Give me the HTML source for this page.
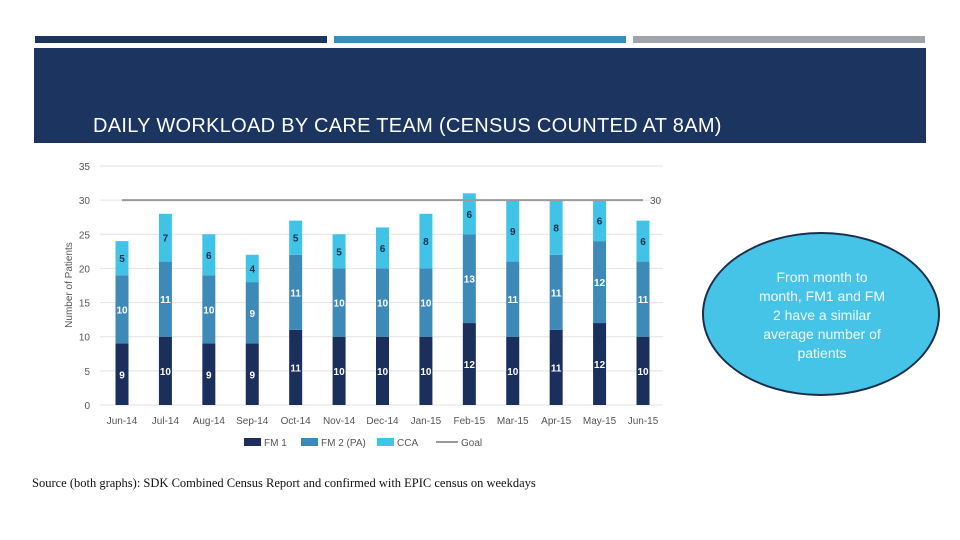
<!DOCTYPE html>
<html><head><meta charset="utf-8"><style>
body{margin:0;width:960px;height:540px;background:#fff;position:relative;overflow:hidden;font-family:"Liberation Sans",sans-serif}
.bar{position:absolute;top:36px;height:7px}
</style></head><body>
<div class="bar" style="left:35px;width:292px;background:#1b3560"></div>
<div class="bar" style="left:334px;width:292px;background:#3c8cba"></div>
<div class="bar" style="left:633px;width:292px;background:#a0a4aa"></div>
<div style="position:absolute;left:34px;top:48px;width:892px;height:95px;background:#1b3560"></div>
<div style="position:absolute;left:93px;top:115px;color:#fff;font-size:20px;letter-spacing:0.3px">DAILY WORKLOAD BY CARE TEAM (CENSUS COUNTED AT 8AM)</div>
<svg id="chart" width="960" height="540" style="position:absolute;left:0;top:0"></svg>
<div style="position:absolute;left:702px;top:232px;width:238px;height:164px;border-radius:50%;background:#45c4e8;border:2px solid #1b2f4a;box-sizing:border-box"></div>
<div style="position:absolute;left:757px;top:268px;width:130px;text-align:center;color:#f4f8fa;font-size:14px;line-height:19px">From month to month, FM1 and FM 2 have a similar average number of patients</div>
<div style="position:absolute;left:32px;top:476px;font-family:'Liberation Serif',serif;font-size:12.5px;color:#111">Source (both graphs): SDK Combined Census Report and confirmed with EPIC census on weekdays</div>
<script>
const months=["Jun-14","Jul-14","Aug-14","Sep-14","Oct-14","Nov-14","Dec-14","Jan-15","Feb-15","Mar-15","Apr-15","May-15","Jun-15"];
const fm1=[9,10,9,9,11,10,10,10,12,10,11,12,10];
const fm2=[10,11,10,9,11,10,10,10,13,11,11,12,11];
const cca=[5,7,6,4,5,5,6,8,6,9,8,6,6];
const goal=30;
const yTicks=[0,5,10,15,20,25,30,35];
const svg=document.getElementById('chart');const NS='http://www.w3.org/2000/svg';
const y=v=>405-v*(239/35);const x=i=>122+i*(521/12);
function mk(t,a,txt){const e=document.createElementNS(NS,t);for(const k in a)e.setAttribute(k,a[k]);if(txt!==undefined)e.textContent=txt;svg.appendChild(e);return e;}
yTicks.forEach(t=>{
 const l=mk('line',{x1:100,x2:663,y1:y(t),y2:y(t),stroke:'#e3e3e3','stroke-width':1});
 
 
 const tx=mk('text',{x:90,y:y(t)+4,'text-anchor':'end','font-size':10,fill:'#555'},t);
 
 
});
const yt=mk('text',{x:72,y:285,'text-anchor':'middle','font-size':10,fill:'#555',transform:'rotate(-90 72 285)'},'Number of Patients');


const series=[[fm1,'#1b2f5c','#fff'],[fm2,'#3d8ab8','#fff'],[cca,'#40c3e6','#1b2f4a']];
months.forEach((m,i)=>{
 let base=0;
 series.forEach(([arr,c,tc],s)=>{
  const v=arr[i];
  const r=mk('rect',{x:x(i)-6.5,y:y(base+v),width:13,height:y(base)-y(base+v),fill:c});
  
  
  const lb=mk('text',{x:x(i),y:(y(base)+y(base+v))/2+4,'text-anchor':'middle','font-size':10,'font-weight':'bold',fill:tc},v);
  
  
  base+=v;
 });
 const xl=mk('text',{x:x(i),y:424,'text-anchor':'middle','font-size':10,fill:'#555'},m);
 
 
});
const gl=mk('line',{x1:x(0),x2:x(12),y1:y(goal),y2:y(goal),stroke:'#999','stroke-width':2});


const gt=mk('text',{x:650,y:y(goal)+4,'font-size':10,fill:'#555'},goal);


const leg=[['FM 1','#1b2f5c',244],['FM 2 (PA)','#3d8ab8',301],['CCA','#40c3e6',377]];
leg.forEach(([n,c,lx])=>{
 const r=mk('rect',{x:lx,y:438,width:17,height:8,fill:c});
 
 
 const t=mk('text',{x:lx+20,y:446,'font-size':10,fill:'#555'},n);
 
 
});
const lgl=mk('line',{x1:436,x2:458,y1:442,y2:442,stroke:'#999','stroke-width':2});


const lgt=mk('text',{x:461,y:446,'font-size':10,fill:'#555'},'Goal');


</script>
</body></html>
